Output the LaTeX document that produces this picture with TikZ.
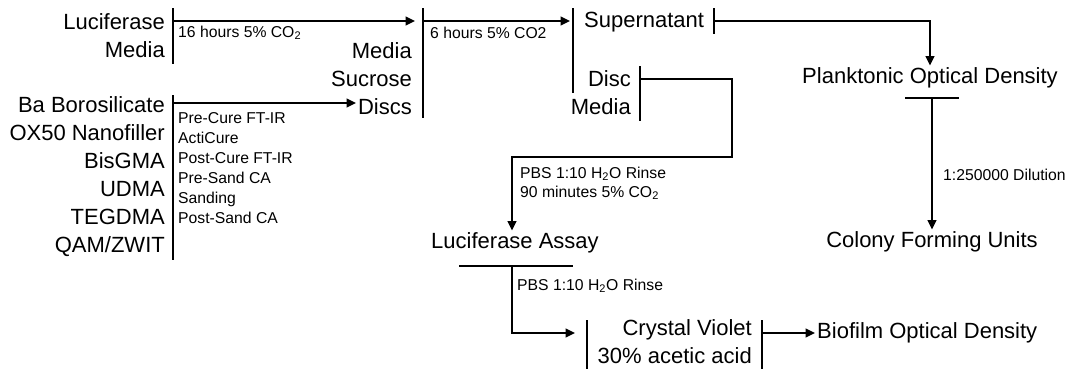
\documentclass[tikz,border=0pt]{standalone}
\usepackage{fontspec}
\setmainfont{Liberation Sans}
\usetikzlibrary{positioning,arrows.meta}

\begin{document}
\begin{tikzpicture}[x=0.75pt, y=-0.75pt, >={Triangle[length=7pt,width=6.5pt]}, line width=1.3pt,
  big/.style={font=\fontsize{16.5}{21}\selectfont, inner sep=1pt},
  small/.style={font=\fontsize{11.8}{15}\selectfont, inner sep=1pt}]
  \useasboundingbox (0,0) rectangle (1070,368);
  % starting materials
  \node[big, anchor=east, align=right] (lucmed) at (167,36) {Luciferase\\Media};
  \node[big, anchor=east, align=right] (resin) at (167,177) {Ba Borosilicate\\OX50 Nanofiller\\BisGMA\\UDMA\\TEGDMA\\QAM/ZWIT};
  \node[small, anchor=west, align=left] (prep) at (176,168.5) {Pre-Cure FT-IR\\ActiCure\\Post-Cure FT-IR\\Pre-Sand CA\\Sanding\\Post-Sand CA};
  \node[big, anchor=east, align=right] (msd) at (414,79) {Media\\Sucrose\\Discs};
  \node[big, anchor=west] (super) at (582,22) {Supernatant};
  \node[big, anchor=east, align=right] (discmed) at (633,93) {Disc\\Media};
  \node[big] (plank) at (930,78) {Planktonic Optical Density};
  \node[big] (cfu) at (932,242) {Colony Forming Units};
  \node[big] (lucassay) at (515,243) {Luciferase Assay};
  \node[big, anchor=east, align=right] (cv) at (754,342) {Crystal Violet\\30\% acetic acid};
  \node[big, anchor=west] (biofilm) at (815,333) {Biofilm Optical Density};
  % step labels
  \node[small, anchor=west] (l16h) at (176,33) {16 hours 5\% CO\textsubscript{2}};
  \node[small, anchor=west] (l6h) at (428,33) {6 hours 5\% CO2};
  \node[small, anchor=west, align=left, font=\fontsize{11.8}{14.3}\selectfont] (lrinse) at (518,183.5) {PBS 1:10 H\textsubscript{2}O Rinse\\90 minutes 5\% CO\textsubscript{2}};
  \node[small, anchor=west] (lrinse2) at (515,286) {PBS 1:10 H\textsubscript{2}O Rinse};
  \node[small, anchor=west] (ldil) at (941,175) {1:250000 Dilution};
  % bars
  \coordinate (a1) at (173,21);
  \coordinate (a2) at (173,103);
  \coordinate (a3) at (423,21);
  \coordinate (a4) at (714,21);
  \coordinate (a5) at (640,79);
  \coordinate (a6) at (932,98);
  \coordinate (a7) at (512,266);
  \coordinate (a8) at (762,333);
  \draw (173,8) -- (173,64);
  \draw (173,95) -- (173,260);
  \draw (423,8) -- (423,118);
  \draw (573,8) -- (573,93);
  \draw (714,8) -- (714,34);
  \draw (640,66) -- (640,121);
  \draw (905,98) -- (959,98);
  \draw (459,266) -- (573,266);
  \draw (587,320) -- (587,370);
  \draw (762,320) -- (762,370);
  % connectors
  \draw[->] (a1) -- (415,21);
  \draw[->] (a2) -- (356,103);
  \draw[->] (a3) -- (570,21);
  \draw[->] (a4) -| (plank.north);
  \draw[->] (a5) -- (732,79) -- (732,157) -| (lucassay.north -| 512,0);
  \draw[->] (a6) -- (cfu.north);
  \draw[->] (a7) |- (575,333);
  \draw[->] (a8) -- (biofilm.west);
\end{tikzpicture}
\end{document}
